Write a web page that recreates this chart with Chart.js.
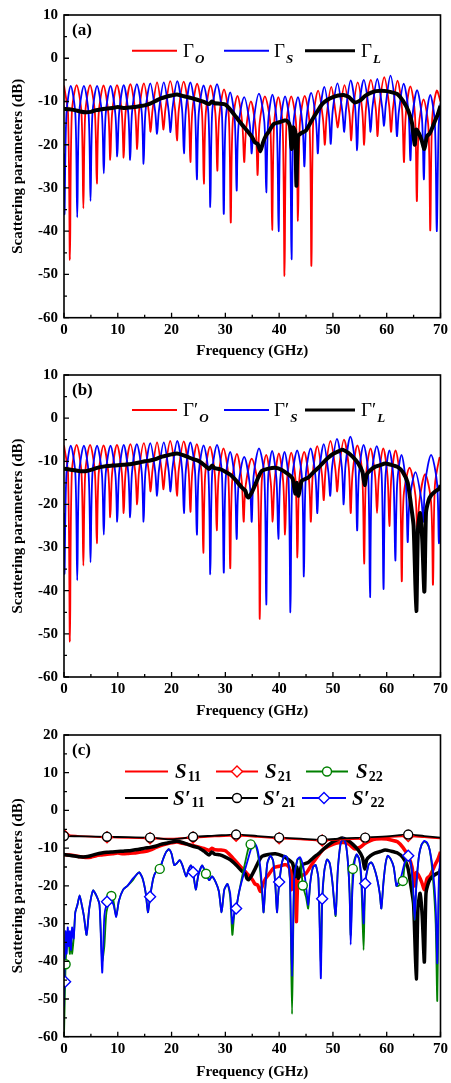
<!DOCTYPE html>
<html>
<head>
<meta charset="utf-8">
<script src="https://cdn.jsdelivr.net/npm/chart.js@4.4.1/dist/chart.umd.min.js"></script>
<style>
  body { margin: 0; background: #fff; width: 451px; height: 1083px; overflow: hidden; position: relative; }
  canvas { position: absolute; left: 0; }
</style>
</head>
<body>
<canvas id="pa" width="451" height="360" style="top:0"></canvas>
<canvas id="pb" width="451" height="360" style="top:360px"></canvas>
<canvas id="pc" width="451" height="363" style="top:720px"></canvas>
<script>
// tick labels
const freqTicks = [0, 10, 20, 30, 40, 50, 60, 70];
const dbTicksAB = [-60, -50, -40, -30, -20, -10, 0, 10];
const dbTicksC = [-60, -50, -40, -30, -20, -10, 0, 10, 20];

// (a) reflection, [GHz, dB]
const gammaO = [
  [0,-6.3],
  [0.75,-12.8],[1.1,-46.6],[1.45,-12.7],[2.35,-6.2],[3.25,-12.7],[3.6,-34.7],[3.95,-12.7],[4.85,-6.2],
  [5.75,-12.7],[6.1,-29],[6.45,-12.8],[7.35,-6.3],[8.25,-12.8],[8.6,-23.5],[8.95,-12.7],[9.85,-6.2],
  [10.75,-12.7],[11.1,-23],[11.45,-12.5],[12.35,-6.0],[13.25,-12.5],[13.6,-21],[13.95,-12.3],[14.85,-5.8],
  [15.75,-12.3],[16.1,-17],[16.45,-12.1],[17.3,-5.6],[18.15,-12.1],[18.5,-16.5],[18.85,-11.8],[19.75,-5.3],
  [20.65,-11.8],[21.0,-19],[21.35,-11.9],[22.25,-5.4],[23.15,-11.9],[23.5,-24],[23.85,-12.4],[24.75,-5.9],
  [25.65,-12.4],[26.0,-29],[26.35,-12.8],[27.25,-6.3],[28.15,-12.8],[28.5,-26],[28.85,-13.7],[29.75,-7.2],
  [30.65,-13.7],[31.0,-38],[31.35,-15.2],[32.25,-8.7],[33.15,-15.2],[33.5,-24],[33.85,-16.5],[34.75,-10.0],
  [35.65,-16.5],[36.0,-27],[36.35,-15.3],[37.35,-8.8],[38.35,-15.3],[38.7,-39.7],[39.05,-15.5],[39.85,-9.0],
  [40.65,-15.5],[41.0,-50.3],[41.35,-15.3],[42.25,-8.8],[43.15,-15.3],[43.5,-37.6],[43.85,-15.2],[44.75,-8.7],
  [45.65,-15.2],[46.0,-48],[46.35,-14],[47.25,-7.5],[48.15,-14],[48.5,-20],[48.85,-13.1],[49.7,-6.6],
  [50.55,-13.1],[50.9,-16],[51.25,-12.7],[52.15,-6.2],[53.05,-12.7],[53.4,-19],[53.75,-12.1],[54.6,-5.6],
  [55.45,-12.1],[55.8,-20],[56.15,-11.5],[57.05,-5.0],[57.95,-11.5],[58.3,-18],[58.65,-10.9],[59.55,-4.4],
  [60.45,-10.9],[60.8,-17],[61.15,-11.7],[62.0,-5.2],[62.85,-11.7],[63.2,-24],[63.55,-13],[64.4,-6.5],
  [65.25,-13],[65.6,-33],[65.95,-16],[66.85,-9.5],[67.75,-16],[68.1,-39.8],[68.45,-14],[69.3,-7.5],[70,-10]
];
const gammaS = [
  [0,-22],[0.1,-36],[0.45,-12.9],[1.25,-6.4],
  [2.11,-12.9],[2.46,-36.8],[2.81,-12.9],[3.7,-6.4],[4.58,-12.9],[4.93,-33],[5.28,-12.9],[6.15,-6.4],
  [7.05,-12.9],[7.4,-26.6],[7.75,-12.9],[8.65,-6.4],[9.55,-12.9],[9.9,-22.7],[10.25,-12.7],[11.1,-6.2],
  [11.95,-12.7],[12.3,-23.5],[12.65,-12.5],[13.55,-6.0],[14.45,-12.5],[14.8,-24.4],[15.15,-12.3],[16.05,-5.8],
  [16.95,-12.3],[17.3,-17.5],[17.65,-12.1],[18.55,-5.6],[19.45,-12.1],[19.8,-17.1],[20.15,-11.8],[21.05,-5.3],
  [21.95,-11.8],[22.3,-22],[22.65,-12.1],[23.5,-5.6],[24.35,-12.1],[24.7,-28],[25.05,-12.8],[25.95,-6.3],
  [26.85,-12.8],[27.2,-34.4],[27.55,-12.5],[28.45,-6.0],[29.35,-12.5],[29.7,-36],[30.05,-14.4],[30.9,-7.9],
  [31.75,-14.4],[32.1,-30.6],[32.45,-15.5],[33.5,-9.0],[34.55,-15.5],[34.9,-22],[35.25,-14.7],[36.25,-8.2],
  [37.25,-14.7],[37.6,-31],[37.95,-14.9],[38.75,-8.4],[39.55,-14.9],[39.9,-40],[40.25,-15.3],[41.1,-8.8],
  [41.95,-15.3],[42.3,-46.5],[42.65,-15.5],[43.5,-9.0],[44.35,-15.5],[44.7,-25],[45.05,-14.5],[45.95,-8.0],
  [46.85,-14.5],[47.2,-22],[47.55,-13.1],[48.4,-6.6],[49.25,-13.1],[49.6,-19.8],[49.95,-12.3],[50.85,-5.8],
  [51.75,-12.3],[52.1,-17],[52.45,-11.6],[53.3,-5.1],[54.15,-11.6],[54.5,-21.3],[54.85,-11.5],[55.75,-5.0],
  [56.65,-11.5],[57.0,-17],[57.35,-11.3],[58.25,-4.8],[59.15,-11.3],[59.5,-15.6],[59.85,-10.5],[60.7,-4.0],
  [61.55,-10.5],[61.9,-18],[62.25,-12.4],[63.15,-5.9],[64.05,-12.4],[64.4,-23.6],[64.75,-13.9],[65.65,-7.4],
  [66.55,-13.9],[66.9,-28],[67.25,-15],[68.1,-8.5],[68.95,-15],[69.3,-40],[69.65,-16],[70,-10.5]
];
const gammaL = [
  [0,-11.7],[1,-11.8],[2,-12.0],[3,-12.3],[4,-12.5],[5,-12.4],[6,-12.0],[7,-11.8],[8,-11.6],[9,-11.5],
  [10,-11.3],[11,-11.5],[12,-11.4],[13,-11.3],[14,-11.1],[15,-10.9],[16,-10.5],[17,-9.9],[18,-9.3],[19,-8.9],
  [20,-8.6],[21,-8.4],[22,-8.7],[23,-9.0],[24,-9.3],[25,-9.7],[26,-10.1],[27,-10.6],[27.5,-10.0],[28,-10.4],
  [29,-10.5],[30,-10.7],[31,-12.0],[32,-13.6],[33,-15.2],[34,-16.7],[35,-18.3],[35.5,-19.5],[36,-19.8],[36.5,-21.5],
  [37,-19.5],[37.5,-18],[38,-17.1],[39,-15.2],[40,-14.8],[41,-14.4],[41.5,-14.5],[42,-15.6],[42.3,-21],[42.6,-16],
  [43,-17],[43.2,-29.5],[43.5,-18],[44,-17.4],[45,-16.7],[46,-14.5],[47,-12.5],[48,-10.6],[49,-9.6],[50,-9.0],
  [51,-8.6],[52,-8.5],[53,-9.0],[54,-10.2],[55,-9.8],[56,-8.7],[57,-8.0],[58,-7.6],[59,-7.5],[60,-7.6],
  [61,-7.9],[62,-8.3],[63,-9.8],[64,-12.1],[64.7,-15],[65.2,-20],[65.5,-16.5],[66,-17.4],[66.5,-19],[67,-21],
  [67.5,-18],[68,-17.4],[68.5,-16],[69,-14.4],[69.5,-13],[70,-11]
];

// (b) reflection, [GHz, dB]
const gammaOp = [
  [0,-6.3],
  [0.75,-12.8],[1.1,-51.8],[1.45,-12.7],[2.35,-6.2],[3.25,-12.7],[3.6,-34.2],[3.95,-12.7],[4.85,-6.2],
  [5.75,-12.7],[6.1,-29],[6.45,-12.8],[7.35,-6.3],[8.25,-12.8],[8.6,-23],[8.95,-12.7],[9.85,-6.2],
  [10.75,-12.7],[11.1,-22],[11.45,-12.5],[12.35,-6.0],[13.25,-12.5],[13.6,-20],[13.95,-12.3],[14.85,-5.8],
  [15.75,-12.3],[16.1,-17],[16.45,-12.1],[17.3,-5.6],[18.15,-12.1],[18.5,-16.5],[18.85,-11.8],[19.75,-5.3],
  [20.65,-11.8],[21.0,-18],[21.35,-11.9],[22.25,-5.4],[23.15,-11.9],[23.5,-21.7],[23.85,-12.5],[24.7,-6.0],
  [25.55,-12.5],[25.9,-31.2],[26.25,-13.1],[27.15,-6.6],[28.05,-13.1],[28.4,-26],[28.75,-13.5],[29.65,-7.0],
  [30.55,-13.5],[30.9,-34.8],[31.25,-14.8],[32.15,-8.3],[33.05,-14.8],[33.4,-24],[33.75,-15.9],[34.9,-9.4],
  [36.05,-15.9],[36.4,-46.5],[36.75,-15],[37.6,-8.5],[38.45,-15],[38.8,-24],[39.15,-14.7],[39.95,-8.2],
  [40.75,-14.7],[41.1,-27],[41.45,-14.5],[42.25,-8.0],[43.05,-14.5],[43.4,-32.3],[43.75,-14.3],[44.65,-7.8],
  [45.55,-14.3],[45.9,-24],[46.25,-13],[47.1,-6.5],[47.95,-13],[48.3,-19],[48.65,-11.8],[49.55,-5.3],
  [50.45,-11.8],[50.8,-17],[51.15,-11.5],[52.05,-5.0],[52.95,-11.5],[53.3,-22],[53.65,-12.8],[54.55,-6.3],
  [55.45,-12.8],[55.8,-33.7],[56.15,-13.5],[57.0,-7.0],[57.85,-13.5],[58.2,-22],[58.55,-13.5],[59.35,-7.0],
  [60.15,-13.5],[60.5,-25],[60.85,-14],[61.65,-7.5],[62.45,-14],[62.8,-37.8],[63.15,-18],[64.25,-11.5],
  [65.35,-18],[65.7,-28],[66.05,-19.5],[67.15,-13],[68.25,-19.5],[68.6,-38.6],[68.95,-15.7],[69.8,-9.2],[70,-9.4]
];
const gammaSp = [
  [0,-22],[0.1,-36],[0.45,-12.9],[1.25,-6.4],
  [2.11,-12.9],[2.46,-37.6],[2.81,-12.9],[3.7,-6.4],[4.58,-12.9],[4.93,-33.4],[5.28,-12.9],[6.15,-6.4],
  [7.05,-12.9],[7.4,-27],[7.75,-12.9],[8.65,-6.4],[9.55,-12.9],[9.9,-24],[10.25,-12.7],[11.1,-6.2],
  [11.95,-12.7],[12.3,-23],[12.65,-12.5],[13.55,-6.0],[14.45,-12.5],[14.8,-24],[15.15,-12.3],[16.05,-5.8],
  [16.95,-12.3],[17.3,-18],[17.65,-12.1],[18.55,-5.6],[19.45,-12.1],[19.8,-17],[20.15,-11.8],[21.05,-5.3],
  [21.95,-11.8],[22.3,-22],[22.65,-12.1],[23.5,-5.6],[24.35,-12.1],[24.7,-27],[25.05,-12.8],[25.95,-6.3],
  [26.85,-12.8],[27.2,-36.2],[27.55,-12.7],[28.45,-6.2],[29.35,-12.7],[29.7,-35.8],[30.05,-14.3],[30.9,-7.8],
  [31.75,-14.3],[32.1,-28],[32.45,-15.5],[33.5,-9.0],[34.55,-15.5],[34.9,-24],[35.25,-13.5],[36.25,-7.0],
  [37.25,-13.5],[37.6,-43.2],[37.95,-14.1],[38.7,-7.6],[39.5,-14.1],[39.85,-28],[40.2,-14.3],[41.0,-7.8],
  [41.75,-14.3],[42.1,-45],[42.45,-14],[43.35,-7.5],[44.25,-14],[44.6,-36.7],[44.95,-13.5],[45.85,-7.0],
  [46.75,-13.5],[47.1,-22],[47.45,-12.5],[48.3,-6.0],[49.15,-12.5],[49.5,-18],[49.85,-11.3],[50.75,-4.8],
  [51.65,-11.3],[52.0,-20],[52.35,-10.8],[53.25,-4.3],[54.15,-10.8],[54.5,-26],[54.85,-12.7],[55.7,-6.2],
  [56.55,-12.7],[56.9,-41.5],[57.25,-13],[58.15,-6.5],[59.05,-13],[59.4,-39.6],[59.75,-14],[60.5,-7.5],
  [61.25,-14],[61.6,-33],[61.95,-15],[62.75,-8.5],[63.55,-15],[63.9,-28.7],[64.25,-19],[65.35,-12.5],
  [66.45,-19],[66.8,-24],[67.15,-15],[68.25,-8.5],[69.35,-15],[69.7,-29],[70,-16]
];
const gammaLp = [
  [0,-11.7],[1,-11.9],[2,-12.1],[3,-12.3],[4,-12.3],[5,-12.0],[6,-11.6],[7,-11.3],[8,-11.1],[9,-11.0],
  [10,-10.9],[11,-10.8],[12,-10.7],[13,-10.5],[14,-10.3],[15,-10.0],[16,-9.8],[17,-9.5],[18,-9.0],[19,-8.7],
  [20,-8.4],[21,-8.2],[22,-8.5],[23,-9.0],[24,-9.5],[25,-9.9],[26,-10.8],[27,-11.8],[27.5,-11.0],[28,-11.6],
  [29,-11.8],[30,-12.4],[31,-13.2],[32,-14.5],[33,-16.0],[33.7,-16.8],[34,-18.0],[34.3,-18.4],[34.8,-17.5],[35.6,-15.3],
  [36.2,-13.5],[36.8,-12.2],[38,-11.7],[39.3,-11.5],[40.5,-12.0],[41.7,-13.0],[42.5,-14.0],[43.0,-17.5],[43.3,-15.0],[43.6,-18.0],
  [44.2,-14.5],[45.4,-13.8],[46.4,-12.5],[47.3,-11.5],[48.2,-10.3],[49.1,-9.2],[50,-8.3],[51,-7.7],[51.7,-7.3],[52.8,-8.0],
  [53.7,-9.0],[54.7,-10.5],[55.5,-12.5],[55.9,-15.5],[56.3,-13.0],[57,-12.0],[57.8,-11.3],[58.8,-10.9],[59.7,-10.5],[60.8,-10.8],
  [62,-11.3],[63,-12.5],[63.9,-15.0],[64.5,-20],[65,-25],[65.5,-44.7],[65.8,-26],[66.2,-22],[66.6,-28],[67.0,-40.2],
  [67.3,-22],[67.8,-19],[68.3,-17.8],[69,-17],[69.8,-16.3],[70,-15.5]
];

// (c) S-parameters, [GHz, dB]; S11 = gammaL, S'11 = gammaLp
const s21 = [
  [0,-6.5],[4,-6.9],[8,-7.1],[12,-7.3],[16,-7.4],[20,-7.5],[24,-7.2],[28,-6.9],[32,-6.7],[36,-7.0],
  [40,-7.4],[44,-7.7],[48,-8.0],[52,-7.7],[56,-7.5],[60,-7.1],[64,-6.8],[67,-7.1],[70,-7.4]
];
const s21p = [
  [0,-6.8],[4,-6.9],[8,-7.0],[12,-7.1],[16,-7.2],[18,-7.5],[20,-7.7],[22,-7.4],[24,-7.0],[28,-6.7],
  [32,-6.4],[36,-6.8],[40,-7.2],[44,-7.5],[48,-7.8],[52,-7.4],[56,-7.2],[60,-6.9],[64,-6.4],[67,-6.8],[70,-7.2]
];
const s22 = [
  [0,-60],[0.15,-50],[0.3,-40.8],[0.5,-36],[0.7,-33],[0.9,-35],[1.1,-38],[1.3,-33],[1.5,-38],[1.8,-34],
  [2.1,-27],[2.5,-25],[2.9,-22.5],[3.3,-25],[3.7,-28],[4.2,-33],[4.7,-26],[5.4,-21.2],[6.0,-22.5],[6.6,-25],
  [7.1,-40],[7.5,-36],[7.9,-27],[8.8,-22.7],[9.2,-24],[9.7,-28.2],[10.2,-24],[11,-21],[11.8,-20],[12.8,-18.5],
  [13.5,-17],[14,-16.4],[14.6,-18],[15.2,-22],[15.6,-27],[16.0,-23],[16.6,-18],[17.2,-16],[17.8,-15.5],[18.4,-13],
  [19.0,-11],[19.5,-10.3],[20.0,-11.5],[20.5,-14.5],[21.0,-14],[21.5,-13.2],[22.0,-14.5],[22.7,-17.5],[23.2,-15.5],[23.6,-14.6],
  [24.0,-16.4],[24.5,-21],[25.0,-17],[25.7,-14.6],[26.4,-16.8],[27.0,-18.5],[27.5,-17.5],[28.2,-19],[28.8,-21.5],[29.3,-27],
  [29.8,-21],[30.4,-19.5],[30.9,-23],[31.3,-33],[31.7,-27],[32.0,-26],[32.5,-22],[33.2,-17],[33.8,-13],[34.3,-10],
  [34.7,-9.0],[35.2,-8.7],[35.7,-9.5],[36.2,-13],[36.6,-18],[37.1,-27],[37.4,-21],[37.8,-14],[38.4,-12.0],[38.9,-13.5],
  [39.3,-20],[39.6,-27],[39.9,-21],[40.5,-14],[41.0,-12.0],[41.5,-12.5],[42.0,-18],[42.4,-54],[42.8,-18],[43.4,-13],
  [43.9,-12.8],[44.4,-19.9],[45.0,-23],[45.4,-26],[45.8,-19],[46.3,-15],[46.8,-14.5],[47.3,-18],[47.75,-40],[48.0,-25],
  [48.4,-16],[48.9,-13],[49.4,-14],[49.9,-19],[50.5,-28],[50.9,-16],[51.4,-9],[51.9,-7.5],[52.4,-9],[52.8,-14],
  [53.1,-22],[53.3,-33],[53.7,-15.5],[54.0,-13],[54.4,-11.8],[54.9,-13],[55.3,-20],[55.7,-37],[56.0,-20],[56.6,-14.5],
  [57.1,-13.8],[57.6,-15],[58.2,-18],[58.7,-22],[59.0,-26],[59.4,-19],[59.8,-14],[60.2,-12],[60.7,-12.8],[61.3,-15],
  [61.8,-20],[62.2,-20],[63.0,-18.7],[63.3,-15],[64.0,-12.5],[64.5,-14],[64.9,-22],[65.2,-29],[65.5,-20],[66.0,-12],
  [66.5,-9],[67.0,-8.3],[67.5,-8.7],[68.0,-10.5],[68.6,-18],[69.1,-30],[69.4,-50.5],[69.7,-20],[70,-13]
];
const s22p = [
  [0,-52],[0.15,-40],[0.3,-32],[0.5,-38],[0.7,-31],[0.9,-36],[1.1,-32],[1.3,-37],[1.5,-31],[1.8,-34],
  [2.1,-27],[2.5,-25],[2.9,-22.5],[3.3,-25],[3.7,-28],[4.2,-33],[4.7,-26],[5.4,-21.2],[6.0,-22.5],[6.6,-25],
  [7.1,-43],[7.5,-28],[7.9,-25],[8.5,-23.5],[9.2,-25],[9.7,-28.2],[10.2,-24],[11,-21],[11.8,-20],[12.8,-18.1],
  [13.5,-17],[14,-16.4],[14.6,-18],[15.2,-22],[15.6,-27],[16.0,-22.9],[16.6,-18],[17.2,-16],[17.8,-15.5],[18.4,-13],
  [19.0,-11],[19.5,-10.3],[20.0,-11.5],[20.5,-14.5],[21.0,-14],[21.5,-13.2],[22.0,-14.5],[22.7,-17.5],[23.2,-15.5],[23.6,-14.6],
  [24.0,-16.4],[24.5,-21],[25.0,-17],[25.7,-14.6],[26.3,-16.5],[27.0,-18.5],[27.5,-17.5],[28.2,-19],[28.8,-21.5],[29.3,-27],
  [29.8,-21],[30.4,-19.5],[30.9,-22],[31.3,-30],[31.7,-27],[32.0,-26],[32.5,-22],[33.2,-18],[33.8,-15],[34.5,-11.5],
  [35.0,-9.3],[35.5,-8.8],[36.0,-10.5],[36.5,-15],[36.9,-22],[37.1,-27],[37.4,-21],[37.8,-14],[38.4,-12.0],[38.9,-13.5],
  [39.3,-20],[39.6,-27],[39.9,-21],[40.5,-14],[41.0,-12.0],[41.5,-12.5],[42.0,-18],[42.4,-44],[42.8,-18],[43.4,-13],
  [43.9,-12.4],[44.5,-15],[45.0,-20],[45.4,-25],[45.8,-19],[46.3,-15],[46.8,-14.5],[47.3,-18],[47.75,-44.5],[48.0,-23.4],
  [48.4,-16],[48.9,-13],[49.4,-14],[49.9,-19],[50.5,-27.7],[50.9,-16],[51.4,-9],[51.9,-7.3],[52.4,-9],[52.8,-14],
  [53.1,-22],[53.3,-35.6],[53.6,-22],[54.0,-14],[54.4,-11.6],[54.9,-13],[55.3,-18],[55.7,-30],[56.0,-19.4],[56.6,-14.5],
  [57.1,-13.8],[57.6,-15],[58.2,-18],[58.7,-22],[59.0,-26],[59.4,-19],[59.8,-14],[60.2,-12],[60.7,-12.8],[61.3,-15],
  [61.8,-20],[62.2,-19],[62.7,-17.5],[63.3,-14],[64.0,-12],[64.5,-14],[64.9,-20],[65.2,-29],[65.5,-20],[66.0,-12],
  [66.5,-9],[67.0,-8.1],[67.5,-8.5],[68.0,-10.5],[68.6,-16],[69.1,-25],[69.4,-40.5],[69.7,-18],[70,-12]
];

// marker symbols in (c)
const s21MarkF = [0, 8, 16, 24, 32, 40, 48, 56, 64];
const s21MarkDb = [-6.5, -7.1, -7.4, -7.2, -6.7, -7.4, -8.0, -7.5, -6.8];
const s21pMarkF = [0, 8, 16, 24, 32, 40, 48, 56, 64];
const s21pMarkDb = [-6.8, -7.0, -7.2, -7.0, -6.4, -7.2, -7.8, -7.2, -6.4];
const s22MarkF = [0.3, 8.8, 17.8, 26.4, 34.7, 44.4, 53.7, 63.0];
const s22MarkDb = [-40.8, -22.7, -15.5, -16.8, -9.0, -19.9, -15.5, -18.7];
const s22pMarkF = [0.2, 8, 16, 24, 32, 40, 48, 56, 64];
const s22pMarkDb = [-45.4, -24.2, -22.9, -16.4, -26, -19, -23.4, -19.4, -12];

const RED = '#ff0000', BLUE = '#0000ff', GREEN = '#008000', BLACK = '#000000';
const SERIF = '"Liberation Serif", "Times New Roman", serif';
const tickFont = { family: SERIF, size: 15, weight: 'bold' };
const titleFont = { family: SERIF, size: 15, weight: 'bold' };

const xy = pairs => pairs.map(([x, y]) => ({ x, y }));
const zip = (f, db) => f.map((x, i) => ({ x, y: db[i] }));

function curve(label, pairs, color, width, tension) {
  return { label, data: xy(pairs), borderColor: color, borderWidth: width, tension, pointRadius: 0, fill: false };
}
function marks(label, f, db, color, style, r) {
  return { label, data: zip(f, db), showLine: false, pointStyle: style, pointRadius: r,
    pointBackgroundColor: '#fff', pointBorderColor: color, pointBorderWidth: 1.4 };
}

function drawMarker(ctx, style, x, y, r, color) {
  ctx.beginPath();
  if (style === 'circle') ctx.arc(x, y, r, 0, Math.PI * 2);
  else { ctx.moveTo(x, y - r); ctx.lineTo(x + r, y); ctx.lineTo(x, y + r); ctx.lineTo(x - r, y); ctx.closePath(); }
  ctx.fillStyle = '#fff'; ctx.fill();
  ctx.strokeStyle = color; ctx.lineWidth = 1.4; ctx.stroke();
}

const deco = {
  id: 'panelDeco',
  afterDraw(chart, args, o) {
    const { ctx, chartArea: a } = chart;
    const sx = chart.scales.x, sy = chart.scales.y;
    ctx.save();
    ctx.strokeStyle = BLACK;
    ctx.lineWidth = 1.6;
    ctx.strokeRect(a.left, a.top, a.right - a.left, a.bottom - a.top);
    ctx.lineWidth = 1.3;
    ctx.beginPath();
    for (let v = sx.min; v <= sx.max; v += 5) {
      const p = sx.getPixelForValue(v);
      ctx.moveTo(p, a.bottom); ctx.lineTo(p, a.bottom - (v % 10 ? 3 : 5));
    }
    for (let v = sy.min; v <= sy.max; v += 5) {
      const p = sy.getPixelForValue(v);
      ctx.moveTo(a.left, p); ctx.lineTo(a.left + (v % 10 ? 3 : 5), p);
    }
    ctx.stroke();

    ctx.fillStyle = BLACK;
    ctx.textBaseline = 'alphabetic';
    ctx.font = 'bold 17px ' + SERIF;
    ctx.fillText(o.letter, a.left + 8, a.top + 20);

    o.items.forEach(it => {
      ctx.strokeStyle = it.color;
      ctx.lineWidth = it.width;
      ctx.beginPath(); ctx.moveTo(it.x1, it.y); ctx.lineTo(it.x2, it.y); ctx.stroke();
      if (it.marker) drawMarker(ctx, it.marker, (it.x1 + it.x2) / 2, it.y, it.marker === 'circle' ? 4.5 : 5.5, it.color);
      ctx.fillStyle = BLACK;
      ctx.font = o.mainFont;
      ctx.fillText(it.main, it.tx, it.y + o.mainDy);
      const w = ctx.measureText(it.main).width;
      ctx.font = o.subFont;
      ctx.fillText(it.sub, it.tx + w + 1, it.y + o.subDy);
    });
    ctx.restore();
  }
};

function panel(id, datasets, yTicks, cfg) {
  return new Chart(document.getElementById(id), {
    type: 'line',
    data: { datasets },
    options: {
      responsive: false, animation: false, devicePixelRatio: 1,
      layout: { padding: { top: cfg.top, right: 8, left: 0, bottom: 0 } },
      elements: { point: { radius: 0 } },
      plugins: { legend: { display: false }, tooltip: { enabled: false }, panelDeco: cfg.deco },
      scales: {
        x: {
          type: 'linear', min: 0, max: 70,
          afterFit: s => { s.height = cfg.xh; },
          afterBuildTicks: s => { s.ticks = freqTicks.map(v => ({ value: v })); },
          ticks: { font: tickFont, color: BLACK, padding: 3, maxRotation: 0, autoSkip: false },
          grid: { display: false, drawTicks: false }, border: { display: false },
          title: { display: true, text: 'Frequency (GHz)', font: titleFont, color: BLACK, padding: { top: 0, bottom: cfg.tb } }
        },
        y: {
          type: 'linear', min: yTicks[0], max: yTicks[yTicks.length - 1],
          afterFit: s => { s.width = 64; },
          afterBuildTicks: s => { s.ticks = yTicks.map(v => ({ value: v })); },
          ticks: { font: tickFont, color: BLACK, padding: 6, autoSkip: false },
          grid: { display: false, drawTicks: false }, border: { display: false },
          title: { display: true, text: 'Scattering parameters (dB)', font: titleFont, color: BLACK, padding: { top: 9, bottom: 0 } }
        }
      }
    },
    plugins: [deco]
  });
}

const gammaDeco = (letter, prime, pos) => ({
  letter,
  mainFont: '19px ' + SERIF, subFont: 'italic bold 13px ' + SERIF, mainDy: 6, subDy: 12,
  items: [
    { color: RED, width: 2, x1: 132, x2: 177, y: pos, main: 'Γ' + prime, sub: 'O', tx: 183 },
    { color: BLUE, width: 2, x1: 224, x2: 269, y: pos, main: 'Γ' + prime, sub: 'S', tx: 274 },
    { color: BLACK, width: 3, x1: 305, x2: 355, y: pos, main: 'Γ' + prime, sub: 'L', tx: 361 }
  ]
});

panel('pa', [
  curve('ΓL', gammaL, BLACK, 4, 0.2),
  curve('ΓS', gammaS, BLUE, 1.8, 0.3),
  curve('ΓO', gammaO, RED, 1.8, 0.3)
], dbTicksAB, { top: 14, xh: 42.3, tb: 0, deco: gammaDeco('(a)', '', 50.7) });

panel('pb', [
  curve("Γ'L", gammaLp, BLACK, 4, 0.2),
  curve("Γ'S", gammaSp, BLUE, 1.8, 0.3),
  curve("Γ'O", gammaOp, RED, 1.8, 0.3)
], dbTicksAB, { top: 14, xh: 43, tb: 0, deco: gammaDeco('(b)', '′', 50) });

panel('pc', [
  marks("S'21", s21pMarkF, s21pMarkDb, BLACK, 'circle', 4.5),
  marks('S21', s21MarkF, s21MarkDb, RED, 'rectRot', 5.5),
  marks("S'22", s22pMarkF, s22pMarkDb, BLUE, 'rectRot', 5.5),
  marks('S22', s22MarkF, s22MarkDb, GREEN, 'circle', 4.5),
  curve("S'21", s21p, BLACK, 1.8, 0.3),
  curve('S21', s21, RED, 1.8, 0.3),
  curve("S'22", s22p, BLUE, 1.8, 0.2),
  curve('S22', s22, GREEN, 1.8, 0.2),
  curve("S'11", gammaLp, BLACK, 3.5, 0.2),
  curve('S11', gammaL, RED, 3.5, 0.2)
], dbTicksC, { top: 11, xh: 46.3, tb: 2, deco: {
  letter: '(c)',
  mainFont: 'italic bold 21px ' + SERIF, subFont: 'bold 14px ' + SERIF, mainDy: 6.5, subDy: 9,
  items: [
    { color: RED, width: 2, x1: 125, x2: 168, y: 51.5, main: 'S', sub: '11', tx: 175 },
    { color: RED, width: 2, x1: 216, x2: 258, y: 51.5, marker: 'rectRot', main: 'S', sub: '21', tx: 265 },
    { color: GREEN, width: 2, x1: 306, x2: 348, y: 51.5, marker: 'circle', main: 'S', sub: '22', tx: 356 },
    { color: BLACK, width: 2, x1: 125, x2: 168, y: 78, main: 'S′', sub: '11', tx: 173 },
    { color: BLACK, width: 2, x1: 216, x2: 258, y: 78, marker: 'circle', main: 'S′', sub: '21', tx: 263 },
    { color: BLUE, width: 2, x1: 302, x2: 346, y: 78, marker: 'rectRot', main: 'S′', sub: '22', tx: 352 }
  ]
} });
</script>
</body>
</html>
